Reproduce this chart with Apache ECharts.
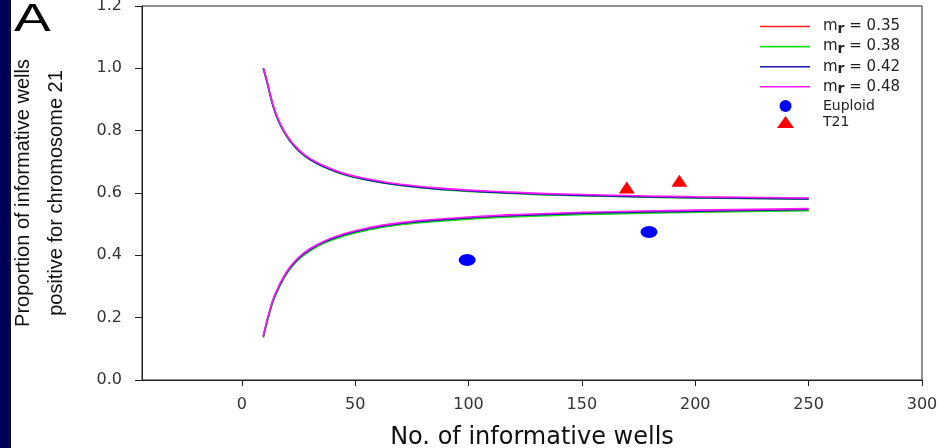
<!DOCTYPE html>
<html>
<head>
<meta charset="utf-8">
<script src="https://cdn.jsdelivr.net/npm/echarts@6/dist/echarts.min.js"></script>
<style>
  html, body { margin: 0; padding: 0; background: #fff; }
  #chart { width: 938px; height: 448px; }
</style>
</head>
<body>
<div id="chart"></div>
<script>
// number of informative wells at which the boundaries were read
const xWells = [9.5, 11, 12.5, 14, 16, 18, 21, 25, 30, 37, 45, 55, 70, 90, 115, 150, 200, 250]

// upper boundary (T21 side) per m_r
const upper35 = [1.0, 0.961, 0.916, 0.876, 0.836, 0.806, 0.771, 0.738, 0.709, 0.683, 0.661, 0.644, 0.626, 0.612, 0.602, 0.593, 0.586, 0.582]
const upper38 = [0.998, 0.959, 0.914, 0.874, 0.834, 0.804, 0.769, 0.736, 0.707, 0.681, 0.659, 0.642, 0.624, 0.610, 0.600, 0.591, 0.584, 0.580]
const upper42 = [1.0, 0.960, 0.915, 0.875, 0.835, 0.805, 0.770, 0.737, 0.708, 0.682, 0.660, 0.643, 0.625, 0.611, 0.601, 0.592, 0.585, 0.581]
const upper48 = [1.0, 0.963, 0.918, 0.878, 0.838, 0.808, 0.773, 0.740, 0.711, 0.685, 0.663, 0.646, 0.628, 0.614, 0.604, 0.595, 0.588, 0.584]

// lower boundary (euploid side) per m_r
const lower35 = [0.138, 0.183, 0.223, 0.258, 0.291, 0.320, 0.355, 0.388, 0.416, 0.443, 0.464, 0.482, 0.500, 0.513, 0.524, 0.533, 0.540, 0.545]
const lower38 = [0.136, 0.181, 0.221, 0.256, 0.289, 0.318, 0.353, 0.386, 0.414, 0.441, 0.462, 0.480, 0.498, 0.511, 0.522, 0.531, 0.538, 0.543]
const lower42 = [0.140, 0.185, 0.225, 0.260, 0.293, 0.322, 0.357, 0.390, 0.418, 0.445, 0.466, 0.484, 0.502, 0.515, 0.526, 0.535, 0.542, 0.547]
const lower48 = [0.142, 0.188, 0.228, 0.263, 0.296, 0.325, 0.360, 0.393, 0.421, 0.448, 0.469, 0.487, 0.505, 0.518, 0.529, 0.538, 0.545, 0.550]

const mrNames = ['mr = 0.35', 'mr = 0.38', 'mr = 0.42', 'mr = 0.48']
const mrColors = ['#ff1a1a', '#19e019', '#1a1aa8', '#ff19ff']

// samples
const euploid = [[99.4, 0.385], [179.6, 0.475]]
const t21 = [[169.8, 0.618], [193.0, 0.639]]

const xTicks = [0, 50, 100, 150, 200, 250, 300]

const chart = echarts.init(document.getElementById('chart'))

const pair = vals => xWells.map((x, i) => [x, vals[i]])

const curves = [
  [upper35, lower35],
  [upper38, lower38],
  [upper42, lower42],
  [upper48, lower48]
]

const lineSeries = []
curves.forEach((c, k) => {
  c.forEach(vals => {
    lineSeries.push({
      name: mrNames[k],
      type: 'line',
      data: pair(vals),
      symbol: 'none',
      smooth: 0.5,
      lineStyle: { color: mrColors[k], width: 1.6 },
      itemStyle: { color: mrColors[k] },
      z: 2 + k
    })
  })
})

const option = {
  animation: false,
  backgroundColor: '#fff',
  grid: {
    left: 142,
    right: 16,
    top: 6,
    bottom: 68,
    show: true,
    borderColor: '#222',
    borderWidth: 1,
    outerBoundsMode: 'none'
  },
  legend: [
    {
      orient: 'vertical',
      left: 755,
      top: 14,
      itemWidth: 50,
      itemHeight: 1.6,
      itemGap: 2.6,
      selectedMode: false,
      data: mrNames.map(n => ({ name: n, icon: 'rect' })),
      formatter: name => 'm{sub|r} = ' + name.split('= ')[1],
      textStyle: {
        fontFamily: 'DejaVu Sans',
        fontSize: 15,
        color: '#222',
        lineHeight: 14,
        padding: [0, 0, 0, 8],
        rich: {
          sub: { fontFamily: 'DejaVu Sans', fontSize: 14, fontWeight: 'bold', color: '#222', padding: [6, 0, 0, 0] }
        }
      }
    },
    {
      orient: 'vertical',
      left: 772,
      top: 94,
      itemWidth: 17,
      itemHeight: 12,
      itemGap: 2,
      symbolKeepAspect: false,
      selectedMode: false,
      data: [{ name: 'Euploid', icon: 'circle' }, { name: 'T21', icon: 'triangle' }],
      itemStyle: { opacity: 1 },
      textStyle: {
        fontFamily: 'DejaVu Sans',
        fontSize: 14,
        color: '#222',
        lineHeight: 12,
        padding: [0, 0, 0, 24]
      }
    }
  ],
  xAxis: {
    type: 'value',
    min: -44,
    max: 300,
    name: 'No. of informative wells',
    nameLocation: 'middle',
    nameGap: 46,
    nameTextStyle: { fontFamily: 'DejaVu Sans', fontSize: 24, color: '#111' },
    axisLine: { show: true, onZero: false, lineStyle: { color: '#222', width: 1 } },
    axisTick: { show: true, length: 6, customValues: xTicks, lineStyle: { color: '#222' } },
    axisLabel: { customValues: xTicks, margin: 17, fontFamily: 'DejaVu Sans', fontSize: 16, color: '#333' },
    splitLine: { show: false }
  },
  yAxis: {
    type: 'value',
    min: 0,
    max: 1.2,
    interval: 0.2,
    name: 'Proportion of informative wells\npositive for chromosome 21',
    nameLocation: 'middle',
    nameGap: 69,
    nameTextStyle: { fontFamily: 'Liberation Sans', fontSize: 20, color: '#111', lineHeight: 33 },
    axisLine: { show: true, onZero: false, lineStyle: { color: '#222', width: 1 } },
    axisTick: { show: true, length: 7, lineStyle: { color: '#222' } },
    axisLabel: {
      margin: 20,
      fontFamily: 'DejaVu Sans',
      fontSize: 16,
      color: '#333',
      formatter: v => v.toFixed(1)
    },
    splitLine: { show: false }
  },
  graphic: [
    { type: 'rect', left: 0, top: 0, shape: { width: 9, height: 448 }, style: { fill: '#000058' } },
    { type: 'rect', left: 9, top: 0, shape: { width: 2, height: 448 }, style: { fill: '#111' } },
    {
      type: 'text',
      x: 14,
      y: 2,
      scaleX: 1.45,
      style: { text: 'A', fontFamily: 'Liberation Sans', fontSize: 38, fill: '#000', textVerticalAlign: 'top' }
    }
  ],
  series: [
    ...lineSeries,
    {
      name: 'Euploid',
      type: 'scatter',
      data: euploid,
      symbol: 'circle',
      symbolSize: [17, 12],
      itemStyle: { color: '#0000ff', opacity: 1 },
      z: 10
    },
    {
      name: 'T21',
      type: 'scatter',
      data: t21,
      symbol: 'triangle',
      symbolSize: [16, 12],
      itemStyle: { color: '#ff0000', opacity: 1 },
      z: 10
    }
  ]
}

chart.setOption(option)
</script>
</body>
</html>
